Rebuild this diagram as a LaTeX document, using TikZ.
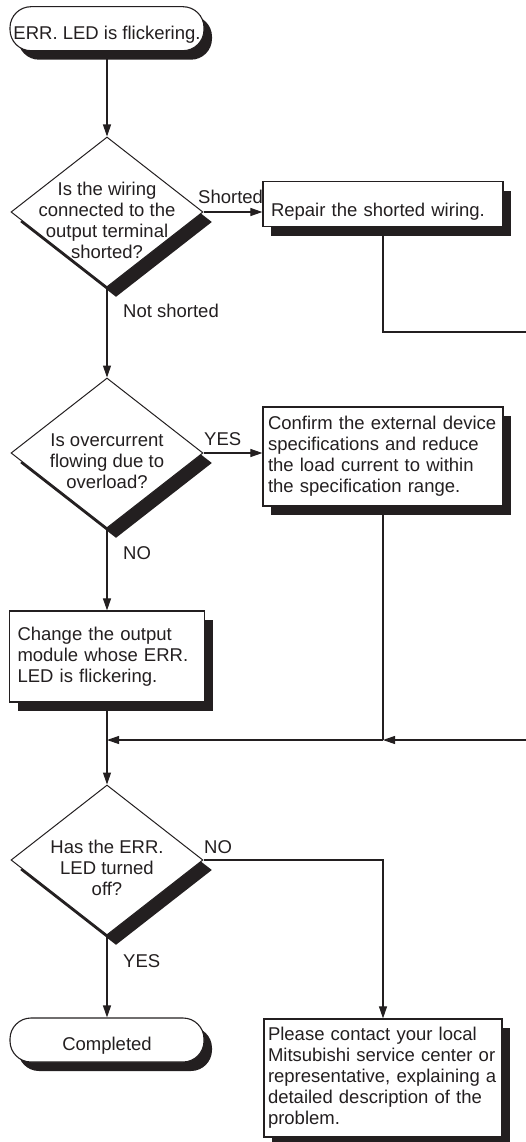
\documentclass[tikz,border=0pt]{standalone}
\usepackage{fontspec}
\setmainfont{Liberation Sans}
\usetikzlibrary{shapes.geometric,shadows,arrows.meta,calc}
\definecolor{ink}{RGB}{35,31,32}
\pgfdeclarelayer{bg}
\pgfsetlayers{bg,main}
\begin{document}
\begin{tikzpicture}[x=1pt,y=-1pt,
  font=\fontsize{18.5}{21}\selectfont,
  every node/.style={text=ink},
  shadowR/.style={drop shadow={shadow xshift=8pt,shadow yshift=-9pt,opacity=1,fill=ink}},
  shadowD/.style={drop shadow={shadow xshift=9pt,shadow yshift=-10pt,opacity=1,fill=ink}},
  proc/.style={rectangle,draw=ink,line width=1.2pt,fill=white,align=left,inner ysep=0pt,shadowR},
  term/.style={rectangle,rounded corners=21pt,draw=ink,line width=1.1pt,fill=white,
    minimum width=194pt,minimum height=44pt,inner sep=0pt,shadowR},
  dec/.style={diamond,draw=ink,line width=1pt,fill=white,minimum width=192pt,
    minimum height=150pt,inner sep=0pt,shadowD},
  qtext/.style={align=center,inner sep=0pt},
  lbl/.style={inner sep=0pt,anchor=base west},
  conn/.style={draw=ink,line width=1.1pt},
  arr/.style={-{Triangle[length=12pt,width=8pt]}}
]
\useasboundingbox (0,0) rectangle (526,1142);

% nodes
\node[term,text height=25pt,text depth=4pt] (start) at (107,28.7) {ERR. LED is flickering.};

\node[dec] (d1) at (107,212) {};
\node[qtext] (t1) at (107,220) {Is the wiring\\connected to the\\output terminal\\shorted?};

\node[proc,text width=224pt,inner xsep=8pt,minimum height=45pt,text height=28pt,text depth=4pt] (b1) at (383,204) {Repair the shorted wiring.};

\node[dec] (d2) at (107,453) {};
\node[qtext] (t2) at (107,461) {Is overcurrent\\flowing due to\\overload?};

\node[proc,text width=230pt,inner xsep=5pt,minimum height=99pt] (b2) at (383,456.5)
  {Confirm the external device\\specifications and reduce\\the load current to within\\the specification range.};

\node[proc,text width=179pt,inner xsep=8pt,minimum height=91pt] (b3) at (107,656.5)
  {Change the output\\module whose ERR.\\LED is flickering.};

\node[dec] (d3) at (107,860) {};
\node[qtext] (t3) at (107,867.5) {Has the ERR.\\LED turned\\off?};

\node[term,text height=24pt,text depth=4pt] (end) at (107,1040) {Completed};

\node[proc,text width=230pt,inner xsep=4pt,minimum height=118pt] (b4) at (383,1078)
  {Please contact your local\\Mitsubishi service center or\\representative, explaining a\\detailed description of the\\problem.};

% labels
\node[lbl] (l1) at (198,203) {Shorted};
\node[lbl] (l2) at (123,317) {Not shorted};
\node[lbl] (l3) at (204,445) {YES};
\node[lbl] (l4) at (123,559) {NO};
\node[lbl] (l5) at (204,853) {NO};
\node[lbl] (l6) at (123,967) {YES};

\coordinate (r1) at (526,332);
\coordinate (r2) at (526,740);
\coordinate (j) at (383,740);
\coordinate (m) at (107,740);

\begin{pgfonlayer}{bg}
\draw[conn,arr] (start.south) -- (d1.north);
\draw[conn,arr] (d1.east) -- (d1.east -| b1.west);
\draw[conn,arr] (d1.south) -- (d2.north);
\draw[conn] (b1.south) |- (r1);
\draw[conn,arr] (d2.east) -- (d2.east -| b2.west);
\draw[conn,arr] (d2.south) -- (b3.north);
\draw[conn] (b2.south) -- (j);
\draw[conn,arr] (r2) -- (j);
\draw[conn,arr] (j) -- (m);
\draw[conn,arr] (b3.south) -- (d3.north);
\draw[conn,arr] (d3.east) -| (b4.north);
\draw[conn,arr] (d3.south) -- (end.north);
\end{pgfonlayer}
\end{tikzpicture}
\end{document}
